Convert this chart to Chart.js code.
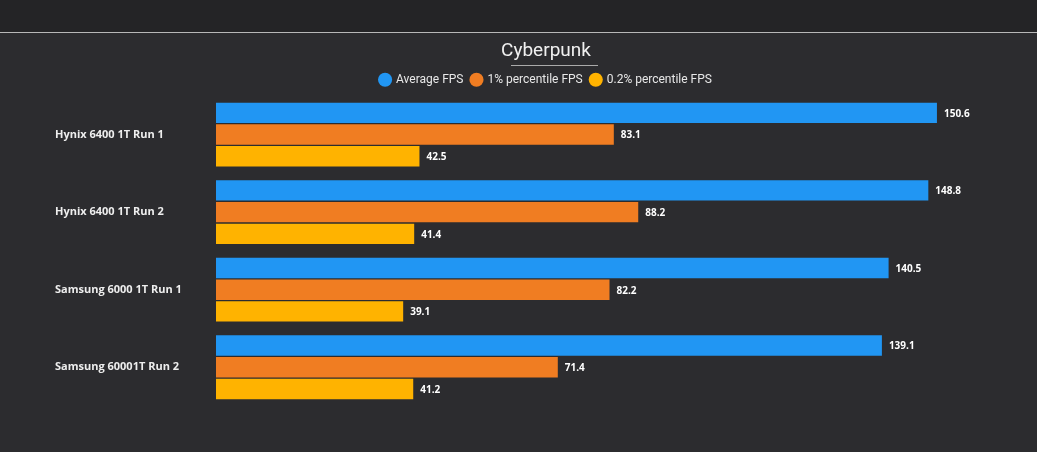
<!DOCTYPE html>
<html><head><meta charset="utf-8">
<script src="https://cdn.jsdelivr.net/npm/chart.js@4"></script>
<style>
body{margin:0;background:#2c2c2f;width:1037px;height:452px;overflow:hidden}
#top{height:32px;background:#242426;border-bottom:1px solid #b8b8b8}
#wrap{position:relative;width:1037px;height:419px}
</style></head><body>
<div id="top"></div>
<div id="wrap"><canvas id="c"></canvas></div>
<script>
var categories = ['Hynix 6400 1T Run 1', 'Hynix 6400 1T Run 2', 'Samsung 6000 1T Run 1', 'Samsung 60001T Run 2'];
var avgFps = [150.6, 148.8, 140.5, 139.1];
var p1Fps = [83.1, 88.2, 82.2, 71.4];
var p02Fps = [42.5, 41.4, 39.1, 41.2];

var font = 'Roboto, "Open Sans", sans-serif';

var valuePlugin = {
  id: 'values',
  afterDatasetsDraw: function(chart) {
    var c = chart.ctx;
    c.save();
    c.font = 'bold 10px "Open Sans", "DejaVu Sans", sans-serif';
    c.fillStyle = '#ffffff';
    c.textBaseline = 'middle';
    chart.data.datasets.forEach(function(ds, d) {
      chart.getDatasetMeta(d).data.forEach(function(bar, i) {
        c.fillText(ds.data[i].toFixed(1), bar.x + 7, bar.y + 1);
      });
    });
    c.restore();
  }
};

var underlinePlugin = {
  id: 'underline',
  afterDraw: function(chart) {
    var c = chart.ctx;
    c.save();
    c.strokeStyle = '#aaaaaa';
    c.lineWidth = 1;
    c.beginPath();
    c.moveTo(511, 32.5);
    c.lineTo(598, 32.5);
    c.stroke();
    c.restore();
  }
};

new Chart(document.getElementById('c'), {
  type: 'bar',
  data: {
    labels: categories,
    datasets: [
      { label: 'Average FPS', data: avgFps, backgroundColor: '#2196f3' },
      { label: '1% percentile FPS', data: p1Fps, backgroundColor: '#f07d22' },
      { label: '0.2% percentile FPS', data: p02Fps, backgroundColor: '#ffb300' }
    ]
  },
  options: {
    indexAxis: 'y',
    responsive: true,
    maintainAspectRatio: false,
    animation: false,
    categoryPercentage: 0.84,
    barPercentage: 0.94,
    layout: { padding: { left: 55, right: 0, top: 0, bottom: 46 } },
    plugins: {
      title: {
        display: true, text: 'Cyberpunk', color: '#f0f0f0',
        font: { family: font, size: 19, weight: 'normal' },
        padding: { top: 7, bottom: 3 }
      },
      legend: {
        labels: {
          color: '#e8e8e8', usePointStyle: true, pointStyle: 'circle',
          boxWidth: 10, boxHeight: 10, padding: 8,
          font: { family: font, size: 12 }
        }
      },
      tooltip: { enabled: false }
    },
    scales: {
      x: { min: 0, max: 171.5, display: false, grid: { display: false } },
      y: {
        grid: { display: false },
        border: { display: false },
        afterFit: function(s) { s.width = 161; },
        ticks: {
          crossAlign: 'far', color: '#eeeeee',
          font: { family: '"Open Sans", "DejaVu Sans", sans-serif', size: 11, weight: 'bold' }
        }
      }
    }
  },
  plugins: [valuePlugin, underlinePlugin]
});
</script>
</body></html>
